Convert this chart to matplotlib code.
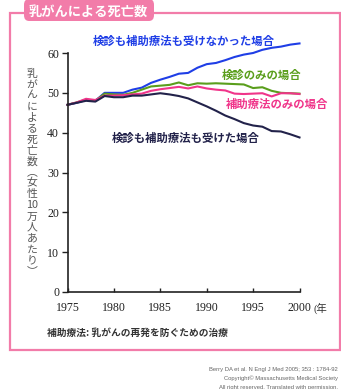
import numpy as np
import matplotlib
matplotlib.use('Agg')
import matplotlib.pyplot as plt
from matplotlib.patches import Rectangle, FancyBboxPatch

# breast cancer deaths per 100k women, 1975-2000
years = np.arange(1975, 2001)
no_screen_no_adj = [47.0, 47.5, 48.2, 48.0, 50.0, 50.0, 50.0, 50.8, 51.3, 52.5, 53.3, 54.0, 54.8,
                    55.0, 56.3, 57.2, 57.5, 58.2, 59.0, 59.6, 60.0, 60.8, 61.3, 61.6, 62.1, 62.4]
screen_only = [47.0, 47.6, 48.3, 48.0, 49.8, 49.6, 49.5, 50.0, 50.8, 51.6, 51.8, 52.0, 52.6,
               51.9, 52.4, 52.3, 52.4, 52.3, 52.2, 52.1, 51.2, 51.4, 50.5, 50.0, 49.9, 49.8]
adj_only = [47.0, 47.6, 48.5, 48.2, 49.3, 49.3, 49.4, 49.6, 49.8, 50.5, 50.9, 51.2, 51.5,
            51.1, 51.6, 51.1, 50.8, 50.6, 49.8, 49.7, 49.8, 49.9, 49.1, 49.9, 49.9, 49.7]
both = [47.0, 47.5, 48.0, 47.8, 49.2, 48.9, 48.9, 49.3, 49.3, 49.6, 49.9, 49.6, 49.2,
        48.6, 47.6, 46.6, 45.5, 44.3, 43.4, 42.4, 41.8, 41.5, 40.4, 40.3, 39.6, 38.8]

series = [
    (no_screen_no_adj, '#1f3ee6', '検診も補助療法も受けなかった場合', 1977.7, 62.9),
    (screen_only, '#5a9e1c', '検診のみの場合', 1991.6, 54.5),
    (adj_only, '#f0358a', '補助療法のみの場合', 1992.1, 47.0),
    (both, '#22224a', '検診も補助療法も受けた場合', 1979.8, 38.7),
]

xticks = [1975, 1980, 1985, 1990, 1995, 2000]
yticks = [0, 10, 20, 30, 40, 50, 60]
ylabel_chars = list('乳がんによる死亡数') + ['︵', '女', '性', '10', '万', '人', 'あ', 'た', 'り', '︶']

W, H = 341, 389
PINK = '#f27ca9'
JP = ['Noto Sans CJK JP', 'DejaVu Sans']

fig = plt.figure(figsize=(W / 100, H / 100), dpi=100)
fig.patch.set_facecolor('white')

def fx(px):
    return px / W

def fy(py):
    return 1 - py / H

# pink frame and title tab
fig.patches.append(Rectangle((fx(10), fy(350)), fx(330), (350 - 13) / H, transform=fig.transFigure,
                             fill=False, edgecolor=PINK, linewidth=1.6))
fig.patches.append(FancyBboxPatch((fx(24), fy(21)), fx(130), 22 / H, transform=fig.transFigure,
                                  boxstyle='round,pad=0,rounding_size=0.015', facecolor=PINK,
                                  edgecolor='none'))
fig.text(fx(88), fy(11.5), '乳がんによる死亡数', family=JP, fontsize=9.5, weight='bold',
         color='white', ha='center', va='center')

ax = fig.add_axes([fx(67.5), fy(292), fx(299.5 - 67.5), (292 - 53) / H])
for vals, color, label, lx, ly in series:
    ax.plot(years, vals, color=color, lw=1.5, clip_on=False)
    ax.text(lx, ly, label, family=JP, fontsize=8.2, weight='bold', color=color,
            ha='left', va='center', clip_on=False)

ax.set_xlim(1975, 2000)
ax.set_ylim(0, 60)
ax.set_xticks(xticks)
ax.set_yticks(yticks)
ax.set_xticklabels([str(t) for t in xticks], family='Liberation Serif', fontsize=8.6, color='#222')
ax.set_yticklabels([str(t) for t in yticks], family='Liberation Serif', fontsize=8.6, color='#222')
ax.tick_params(axis='x', direction='in', length=3, width=1, pad=7, colors='#222')
ax.tick_params(axis='y', direction='out', length=4, width=1, pad=2, colors='#222')
for s in ['top', 'right']:
    ax.spines[s].set_visible(False)
for s in ['left', 'bottom']:
    ax.spines[s].set_linewidth(1.2)
    ax.spines[s].set_color('#222')
ax.patch.set_alpha(0)

fig.text(fx(314), fy(308), '(年', family=['Liberation Serif', 'Noto Sans CJK JP'], fontsize=7.5,
         color='#333', ha='left', va='center')

# vertical y-axis label, one character per row
top, bottom = 68, 277
step = (bottom - top) / len(ylabel_chars)
for i, ch in enumerate(ylabel_chars):
    fig.text(fx(32), fy(top + step * (i + 0.5)), ch, family=JP, fontsize=7.8, color='#555',
             ha='center', va='center')

fig.text(fx(47), fy(333), '補助療法: 乳がんの再発を防ぐための治療', family=JP, fontsize=7,
         weight='bold', color='#333', ha='left', va='center')

credits = ['Berry DA et al. N Engl J Med 2005; 353 : 1784-92',
           'Copyright© Massachusetts Medical Society',
           'All right reserved. Translated with permission.']
for i, line in enumerate(credits):
    fig.text(fx(338), fy(370 + 8.6 * i), line, family='Liberation Sans', fontsize=4.2,
             color='#666', ha='right', va='center')

fig.savefig('out.png', dpi=100)
